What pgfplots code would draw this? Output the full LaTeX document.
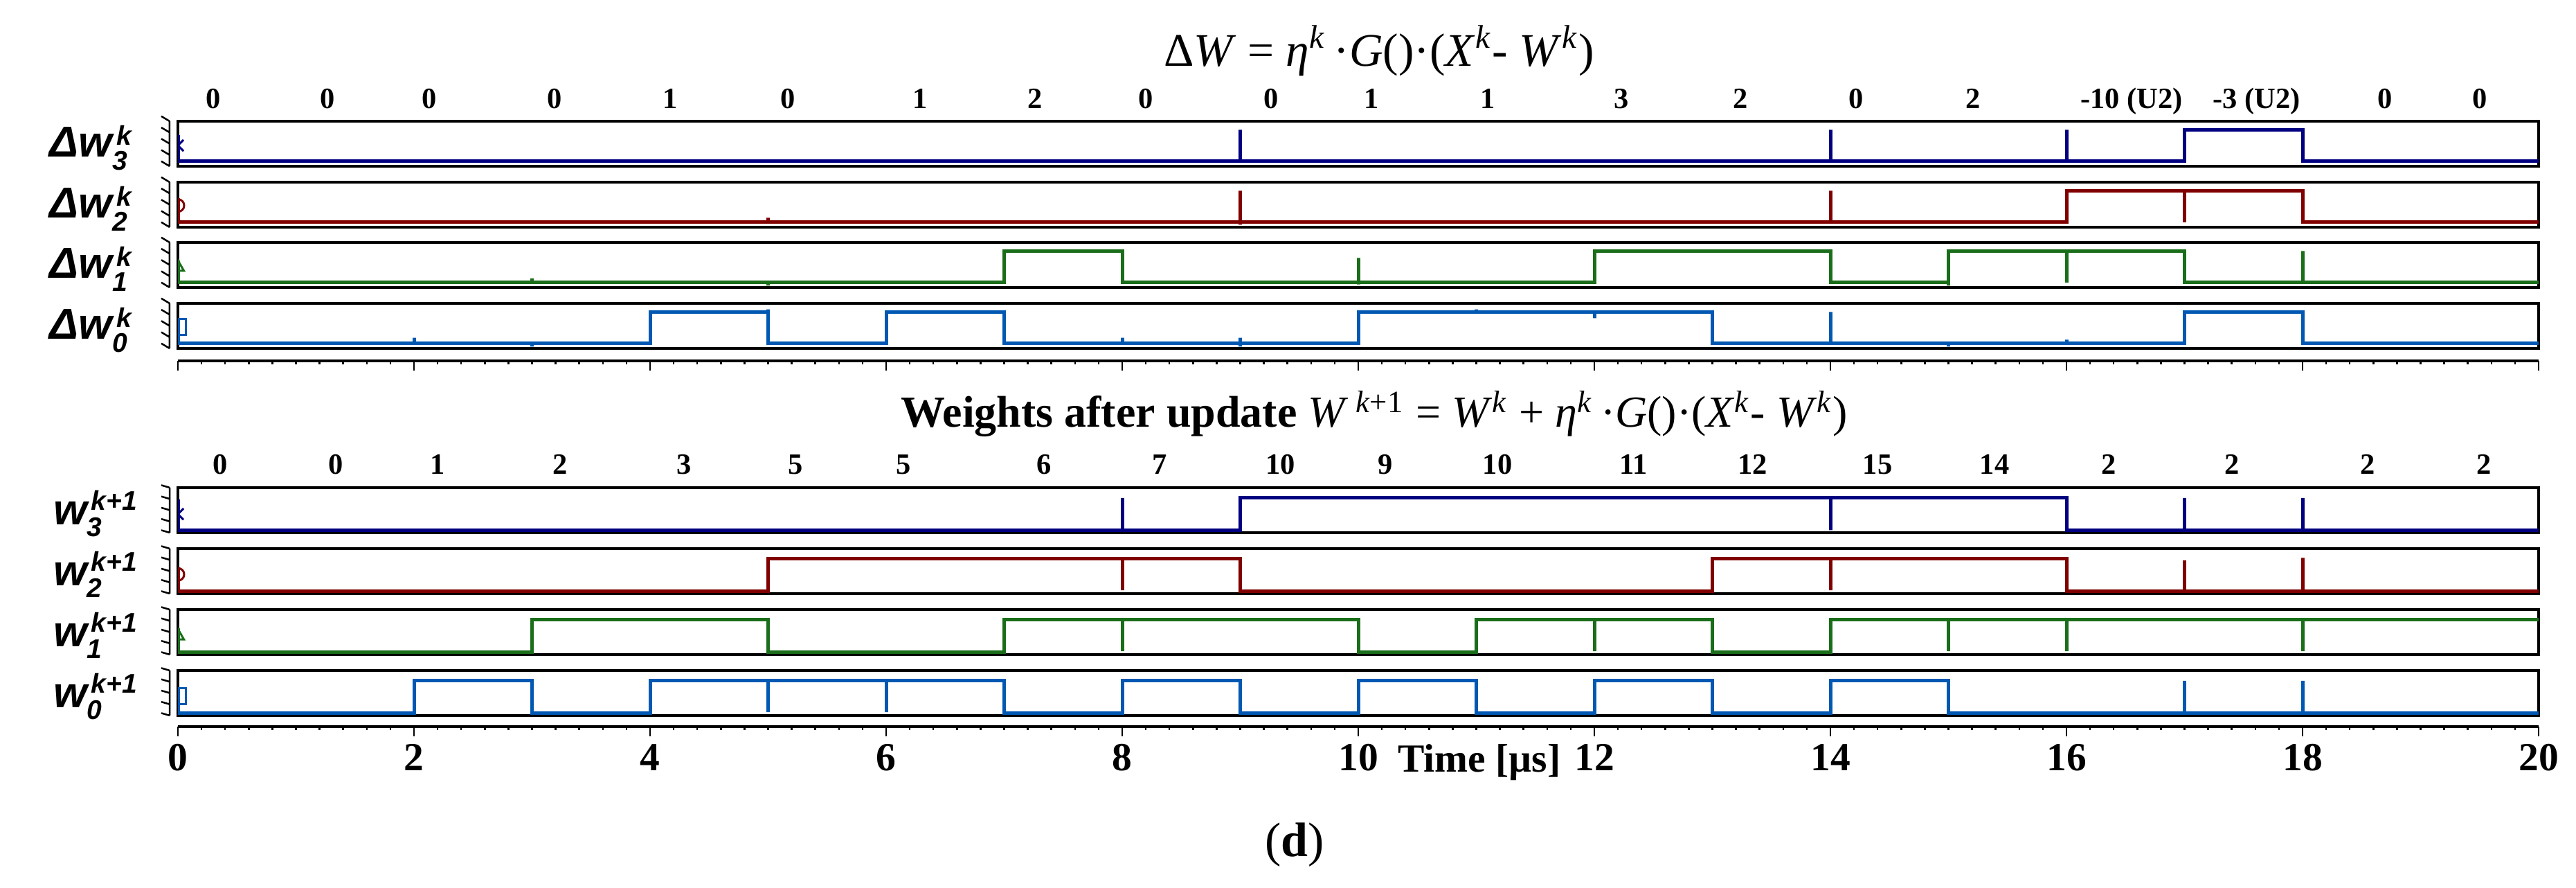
\documentclass[border=0pt]{standalone}
\usepackage{pgfplots}
\pgfplotsset{compat=1.18}
\usepackage{fontspec}
\setmainfont{Liberation Serif}
\setsansfont{Liberation Sans}

\definecolor{cW3}{RGB}{0,0,128}
\definecolor{cW2}{RGB}{128,0,0}
\definecolor{cW1}{RGB}{26,110,26}
\definecolor{cW0}{RGB}{0,88,178}

\newcommand\numfont{\fontsize{8.5}{9}\selectfont\bfseries}
\newcommand\tickfont{\fontsize{11.5}{12}\selectfont\bfseries}
\newcommand\titlefont{\fontsize{13.5}{15}\selectfont}
\newcommand\titlefontb{\fontsize{12.8}{15}\selectfont}
\newcommand\labfont{\fontsize{12.5}{13}\selectfont\sffamily\bfseries\itshape}
\newcommand\scr{\fontsize{7.8}{8}\selectfont}
\newcommand\toplab[1]{{\labfont Δw\rlap{\raisebox{-3.8pt}{\scr #1}}\kern1.2pt\raisebox{3.4pt}{\scr k}}}
\newcommand\botlab[1]{{\labfont w\rlap{\raisebox{-3.4pt}{\scr #1}}\kern1.2pt\raisebox{4.2pt}{\scr k+1}}}

\newcommand\tickcol{%
  \draw[line width=0.5pt] ([xshift=-2.4pt]rel axis cs:0,0) -- ([xshift=-2.4pt]rel axis cs:0,1)
    ([xshift=-2.4pt]rel axis cs:0,0) -- ++(-2.4pt,0)
    ([xshift=-2.4pt]rel axis cs:0,0.25) -- ++(-2.4pt,0)
    ([xshift=-2.4pt]rel axis cs:0,0.5) -- ++(-2.4pt,0)
    ([xshift=-2.4pt]rel axis cs:0,0.75) -- ++(-2.4pt,0)
    ([xshift=-2.4pt]rel axis cs:0,1) -- ++(-2.4pt,0);}

\pgfplotsset{
  panel/.style={scale only axis, width=682pt, height=13pt, xmin=0, xmax=20,
    anchor=south west, xtick=\empty, ytick=\empty,
    axis line style={line width=0.7pt, black},
    clip mode=individual, clip marker paths=true},
  toppanel/.style={panel, ymin=-0.157, ymax=1.271},
  botpanel/.style={panel, ymin=-0.076, ymax=1.32},
  wave/.style={line width=1pt, mark=none},
  mk/.style={only marks, mark options={line width=0.6pt, fill=none}},
  timeaxis/.style={scale only axis, width=682pt, height=6pt, xmin=0, xmax=20,
    ymin=0, ymax=1, anchor=south west, axis y line=none, axis x line=bottom,
    x axis line style={-, line width=0.7pt, black}, xtick distance=2,
    minor x tick num=9, tick align=outside, major tick length=2.8pt,
    minor tick length=1pt, every tick/.style={black, line width=0.5pt}},
  numrow/.style={scale only axis, width=682pt, height=10pt, xmin=0, xmax=20,
    ymin=0, ymax=1, anchor=south west, hide axis, clip=false},
  numplot/.style={draw=none, mark=none, nodes near coords, point meta=explicit symbolic,
    nodes near coords style={anchor=base, font=\numfont, inner sep=0pt}},
}

\begin{document}
\begin{tikzpicture}
\path[use as bounding box] (0,0) rectangle (744.2pt,256.4pt);

% ---------- titles ----------
\node[anchor=base, font=\titlefont] at (398.4pt,237.2pt)
  {Δ\textit{W} = \textit{η}\textsuperscript{\textit{k}}\,·\textit{G}()·(\textit{X}\textsuperscript{\textit{k}}- \textit{W}\textsuperscript{\textit{k}})};
\node[anchor=base, font=\titlefontb] at (397pt,133pt)
  {\textbf{Weights after update} \textit{W}\,\textsuperscript{\textit{k}+1} = \textit{W}\textsuperscript{\textit{k}} + \textit{η}\textsuperscript{\textit{k}}\,·\textit{G}()·(\textit{X}\textsuperscript{\textit{k}}- \textit{W}\textsuperscript{\textit{k}})};

% ---------- number row 1 ----------
\begin{axis}[numrow, at={(51.4pt,225pt)}]
\addplot[numplot] coordinates {
 (0.30,0)[0] (1.27,0)[0] (2.13,0)[0] (3.19,0)[0] (4.17,0)[1] (5.17,0)[0]
 (6.29,0)[1] (7.26,0)[2] (8.20,0)[0] (9.26,0)[0] (10.11,0)[1] (11.10,0)[1]
 (12.23,0)[3] (13.24,0)[2] (14.22,0)[0] (15.21,0)[2] (16.55,0)[-10 (U2)]
 (17.61,0)[-3 (U2)] (18.70,0)[0] (19.50,0)[0]};
\end{axis}

% ---------- top panels ----------
\begin{axis}[toppanel, at={(51.4pt,208.4pt)}]
\addplot[cW3, wave] coordinates {(0,0.83) (0,0) (9,0) (9,1) (9,0) (14,0) (14,1) (14,0) (16,0) (16,1) (16,0) (17,0) (17,1) (18,1) (18,0) (20,0)};
\addplot[cW3, mk, mark=x, mark size=2.3pt] coordinates {(0,0.5)};
\tickcol
\node[anchor=base east, inner sep=0pt] at ([xshift=-13.2pt, yshift=2.6pt]rel axis cs:0,0) {\toplab{3}};
\end{axis}

\begin{axis}[toppanel, at={(51.4pt,190.8pt)}]
\addplot[cW2, wave] coordinates {(0,0.77) (0,0) (5,0) (5,0.14) (5,0) (9,0) (9,1) (9,-0.08) (9,0) (14,0) (14,1) (14,0) (16,0) (16,1) (17,1) (17,0) (17,1) (18,1) (18,0) (20,0)};
\addplot[cW2, mk, mark=o, mark size=1.8pt] coordinates {(0,0.53)};
\tickcol
\node[anchor=base east, inner sep=0pt] at ([xshift=-13.2pt, yshift=2.6pt]rel axis cs:0,0) {\toplab{2}};
\end{axis}

\begin{axis}[toppanel, at={(51.4pt,173.4pt)}]
\addplot[cW1, wave] coordinates {(0,0.7) (0,0) (3,0) (3,0.13) (3,0) (5,0) (5,-0.1) (5,0) (7,0) (7,1) (8,1) (8,0) (10,0) (10,0.78) (10,-0.06) (10,0) (12,0) (12,1) (14,1) (14,0) (15,0) (15,-0.1) (15,1) (16,1) (16,0) (16,1) (17,1) (17,0) (18,0) (18,1) (18,0) (20,0)};
\addplot[cW1, mk, mark=triangle, mark size=2pt] coordinates {(0,0.48)};
\tickcol
\node[anchor=base east, inner sep=0pt] at ([xshift=-13.2pt, yshift=2.6pt]rel axis cs:0,0) {\toplab{1}};
\end{axis}

\begin{axis}[toppanel, at={(51.4pt,155.8pt)}]
\addplot[cW0, wave] coordinates {(0,0.77) (0,0) (2,0) (2,0.18) (2,0) (3,0) (3,-0.1) (3,0) (4,0) (4,1) (5,1) (5,1.08) (5,0) (6,0) (6,1) (7,1) (7,0) (8,0) (8,0.18) (8,0) (9,0) (9,0.18) (9,-0.1) (9,0) (10,0) (10,1) (11,1) (11,1.08) (11,1) (12,1) (12,0.8) (12,1) (13,1) (13,0) (14,0) (14,1) (14,0) (15,0) (15,-0.1) (15,0) (16,0) (16,0.12) (16,0) (17,0) (17,1) (18,1) (18,0) (20,0)};
\addplot[cW0, mk, mark=square, mark size=2.3pt] coordinates {(0,0.53)};
\tickcol
\node[anchor=base east, inner sep=0pt] at ([xshift=-13.2pt, yshift=2.6pt]rel axis cs:0,0) {\toplab{0}};
\end{axis}

% ---------- top time axis ----------
\begin{axis}[timeaxis, at={(51.4pt,152.2pt)}, xticklabels={}]
\addplot[draw=none] coordinates {(0,0.5)};
\end{axis}

% ---------- number row 2 ----------
\begin{axis}[numrow, at={(51.4pt,119.4pt)}]
\addplot[numplot] coordinates {
 (0.36,0)[0] (1.34,0)[0] (2.20,0)[1] (3.24,0)[2] (4.29,0)[3] (5.23,0)[5]
 (6.15,0)[5] (7.34,0)[6] (8.32,0)[7] (9.34,0)[10] (10.23,0)[9] (11.18,0)[10]
 (12.33,0)[11] (13.34,0)[12] (14.40,0)[15] (15.39,0)[14] (16.36,0)[2]
 (17.40,0)[2] (18.55,0)[2] (19.54,0)[2]};
\end{axis}

% ---------- bottom panels ----------
\begin{axis}[botpanel, at={(51.4pt,102.6pt)}]
\addplot[cW3, wave] coordinates {(0,0.95) (0,0) (8,0) (8,1) (8,0) (9,0) (9,1) (14,1) (14,0) (14,1) (16,1) (16,0) (17,0) (17,1) (17,0) (18,0) (18,1) (18,0) (20,0)};
\addplot[cW3, mk, mark=x, mark size=2.3pt] coordinates {(0,0.5)};
\tickcol
\node[anchor=base east, inner sep=0pt] at ([xshift=-11.6pt, yshift=2.2pt]rel axis cs:0,0) {\botlab{3}};
\end{axis}

\begin{axis}[botpanel, at={(51.4pt,85.0pt)}]
\addplot[cW2, wave] coordinates {(0,0.74) (0,0) (5,0) (5,1) (8,1) (8,0.03) (8,1) (9,1) (9,0) (13,0) (13,1) (14,1) (14,0.03) (14,1) (16,1) (16,0) (17,0) (17,0.95) (17,0) (18,0) (18,1.03) (18,0) (20,0)};
\addplot[cW2, mk, mark=o, mark size=1.8pt] coordinates {(0,0.52)};
\tickcol
\node[anchor=base east, inner sep=0pt] at ([xshift=-11.6pt, yshift=2.2pt]rel axis cs:0,0) {\botlab{2}};
\end{axis}

\begin{axis}[botpanel, at={(51.4pt,67.4pt)}]
\addplot[cW1, wave] coordinates {(0,0.74) (0,0) (3,0) (3,1) (5,1) (5,0) (7,0) (7,1) (8,1) (8,0.03) (8,1) (10,1) (10,0) (11,0) (11,1) (12,1) (12,0.03) (12,1) (13,1) (13,0) (14,0) (14,1) (15,1) (15,0.03) (15,1) (16,1) (16,0.03) (16,1) (18,1) (18,0.03) (18,1) (20,1)};
\addplot[cW1, mk, mark=triangle, mark size=2pt] coordinates {(0,0.5)};
\tickcol
\node[anchor=base east, inner sep=0pt] at ([xshift=-11.6pt, yshift=2.2pt]rel axis cs:0,0) {\botlab{1}};
\end{axis}

\begin{axis}[botpanel, at={(51.4pt,49.8pt)}]
\addplot[cW0, wave] coordinates {(0,0.8) (0,0) (2,0) (2,1) (3,1) (3,0) (4,0) (4,1) (5,1) (5,0.03) (5,1) (6,1) (6,0.03) (6,1) (7,1) (7,0) (8,0) (8,1) (9,1) (9,0) (10,0) (10,1) (11,1) (11,0) (12,0) (12,1) (13,1) (13,0) (14,0) (14,1) (15,1) (15,0) (17,0) (17,1) (17,0) (18,0) (18,1) (18,0) (20,0)};
\addplot[cW0, mk, mark=square, mark size=2.3pt] coordinates {(0,0.52)};
\tickcol
\node[anchor=base east, inner sep=0pt] at ([xshift=-11.6pt, yshift=2.2pt]rel axis cs:0,0) {\botlab{0}};
\end{axis}

% ---------- bottom time axis ----------
\begin{axis}[timeaxis, at={(51.4pt,46.6pt)},
  xticklabel style={font=\tickfont, anchor=base, yshift=-10pt},
  /pgf/number format/assume math mode=true]
\addplot[draw=none] coordinates {(0,0.5)};
\end{axis}

\node[anchor=base, font=\tickfont] at (427.4pt,33.4pt) {Time [µs]};
\node[font=\fontsize{14}{16}\selectfont] at (374pt,12.4pt) {(\textbf{d})};
\end{tikzpicture}
\end{document}
